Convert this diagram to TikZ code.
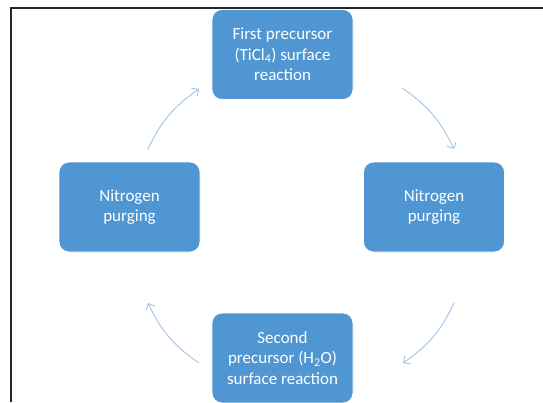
\documentclass[tikz,border=0pt]{standalone}
\usepackage{fontspec}
\setmainfont{Carlito}
\usetikzlibrary{arrows.meta}
\definecolor{boxblue}{RGB}{79,150,210}
\definecolor{arrowblue}{RGB}{160,197,232}
\begin{document}
\begin{tikzpicture}[x=1pt,y=-1pt,
  stepbox/.style={draw=white, line width=0.8pt, fill=boxblue, rounded corners=10pt,
    minimum width=141pt, minimum height=90pt, text=white, align=center,
    font=\fontsize{17}{20.5}\selectfont, inner sep=0pt},
  cyc/.style={draw=arrowblue, line width=0.9pt, -{Straight Barb[length=5pt,width=10pt]}}]
\useasboundingbox (0,0) rectangle (543,402);
\fill[white] (0,0) rectangle (543,402);
\draw[line width=2pt, draw=black!85] (543,7.5) -- (11,7.5) -- (11,402);
\node[stepbox] (top) at (282.5,54.5) {First precursor\\(TiCl\textsubscript{4}) surface\\reaction};
\node[stepbox] (right) at (434,207) {Nitrogen\\purging};
\node[stepbox] (bottom) at (282.5,358) {Second\\precursor (H\textsubscript{2}O)\\surface reaction};
\node[stepbox] (left) at (129.5,207) {Nitrogen\\purging};
\coordinate (a1) at (402,88);
\coordinate (a2) at (454,149);
\coordinate (b1) at (454,303);
\coordinate (b2) at (403,363);
\coordinate (c1) at (199,363);
\coordinate (c2) at (148,303);
\coordinate (d1) at (148,149);
\coordinate (d2) at (199,89);
\draw[cyc] (a1) to[bend left=15] (a2);
\draw[cyc] (b1) to[bend left=15] (b2);
\draw[cyc] (c1) to[bend left=15] (c2);
\draw[cyc] (d1) to[bend left=15] (d2);
\end{tikzpicture}
\end{document}
